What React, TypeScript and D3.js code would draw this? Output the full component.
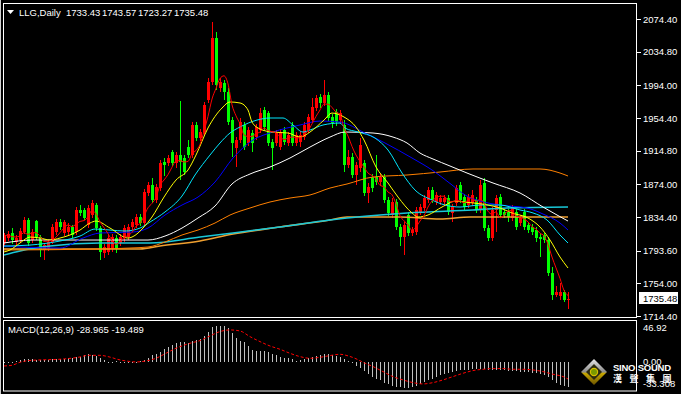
import React from "react";
import * as d3 from "d3";

const W = 681;
const H = 394;

// daily bars, one row per day: open, high, low, close
const ohlc: number[][] = [
  [1802.9, 1815.0, 1799.2, 1811.3], [1808.9, 1817.4, 1805.3, 1813.8], [1815.0, 1821.0, 1801.6, 1806.5],
  [1804.1, 1812.6, 1800.4, 1808.9], [1806.5, 1821.0, 1802.9, 1817.4], [1816.2, 1834.4, 1813.8, 1830.8],
  [1830.8, 1833.2, 1799.2, 1802.9], [1806.5, 1819.8, 1802.9, 1816.2], [1829.5, 1830.8, 1806.5, 1810.1],
  [1810.1, 1812.6, 1785.9, 1794.4], [1794.4, 1802.9, 1782.3, 1800.4], [1796.8, 1806.5, 1793.2, 1804.1],
  [1804.1, 1825.9, 1801.6, 1822.3], [1816.2, 1832.0, 1812.6, 1828.3], [1828.3, 1832.0, 1818.6, 1822.3],
  [1815.0, 1830.8, 1811.3, 1828.3], [1816.2, 1827.1, 1812.6, 1822.3], [1822.3, 1824.7, 1808.9, 1812.6],
  [1816.2, 1846.5, 1812.6, 1842.9], [1842.9, 1848.9, 1835.6, 1839.3], [1842.9, 1845.3, 1830.8, 1833.2],
  [1824.7, 1848.9, 1821.0, 1845.3], [1836.8, 1855.0, 1833.2, 1851.4], [1848.9, 1851.4, 1817.4, 1821.0],
  [1821.0, 1823.5, 1782.3, 1792.0], [1790.7, 1801.6, 1784.7, 1798.0], [1792.0, 1812.6, 1788.3, 1808.9],
  [1796.8, 1813.8, 1792.0, 1810.1], [1808.9, 1812.6, 1790.7, 1796.8], [1802.9, 1813.8, 1799.2, 1810.1],
  [1808.9, 1824.7, 1804.1, 1821.0], [1810.1, 1825.9, 1806.5, 1822.3], [1822.3, 1832.0, 1818.6, 1828.3],
  [1824.7, 1838.0, 1821.0, 1834.4], [1834.4, 1838.0, 1823.5, 1827.1], [1827.1, 1868.3, 1823.5, 1864.7],
  [1863.5, 1876.8, 1859.8, 1873.2], [1873.2, 1881.7, 1851.4, 1855.0], [1855.0, 1874.4, 1851.4, 1870.8],
  [1869.5, 1903.5, 1865.9, 1899.8], [1901.1, 1905.9, 1884.1, 1897.4], [1899.8, 1909.5, 1896.2, 1905.9],
  [1913.2, 1915.6, 1896.2, 1899.8], [1899.8, 1913.2, 1893.8, 1909.5], [1909.5, 1975.0, 1879.2, 1901.1],
  [1905.9, 1909.5, 1885.3, 1888.9], [1919.2, 1927.7, 1905.9, 1909.5], [1909.5, 1949.5, 1905.9, 1945.9],
  [1945.9, 1949.5, 1926.5, 1930.1], [1930.1, 1941.1, 1926.5, 1937.4], [1937.4, 1973.8, 1933.8, 1970.1],
  [1976.2, 2002.9, 1972.6, 1998.0], [1998.0, 2070.7, 1994.4, 2051.4], [2051.4, 2058.6, 1988.3, 1994.4],
  [1990.8, 2002.9, 1985.9, 1998.0], [1996.8, 2000.5, 1976.2, 1985.9], [1985.9, 1990.8, 1945.9, 1949.5],
  [1951.9, 1955.6, 1907.1, 1924.1], [1918.0, 1931.3, 1895.0, 1927.7], [1927.7, 1954.4, 1924.1, 1949.5],
  [1945.9, 1949.5, 1915.6, 1919.2], [1924.1, 1943.5, 1920.4, 1939.8], [1936.2, 1939.8, 1913.2, 1924.1],
  [1931.3, 1947.1, 1927.7, 1943.5], [1939.8, 1966.5, 1936.2, 1960.4], [1964.1, 1967.7, 1939.8, 1943.5],
  [1960.4, 1962.9, 1920.4, 1924.1], [1925.3, 1928.9, 1891.4, 1918.0], [1924.1, 1939.8, 1920.4, 1936.2],
  [1919.2, 1941.1, 1915.6, 1937.4], [1939.8, 1943.5, 1921.7, 1925.3], [1924.1, 1937.4, 1920.4, 1933.8],
  [1945.9, 1949.5, 1920.4, 1924.1], [1924.1, 1937.4, 1920.4, 1933.8], [1925.3, 1938.6, 1919.2, 1933.8],
  [1931.3, 1949.5, 1927.7, 1945.9], [1939.8, 1959.2, 1936.2, 1955.6], [1951.9, 1978.6, 1948.3, 1967.7],
  [1966.5, 1982.3, 1962.9, 1978.6], [1979.8, 1983.5, 1966.5, 1972.6], [1972.6, 2000.5, 1968.9, 1982.3],
  [1982.3, 1985.9, 1950.7, 1954.4], [1955.6, 1959.2, 1942.3, 1948.3], [1961.6, 1965.3, 1944.7, 1949.5],
  [1951.9, 1964.1, 1947.1, 1960.4], [1945.9, 1951.9, 1888.9, 1897.4], [1897.4, 1915.6, 1893.8, 1907.1],
  [1907.1, 1912.0, 1881.7, 1885.3], [1885.3, 1901.1, 1873.2, 1897.4], [1893.8, 1930.1, 1888.9, 1921.7],
  [1899.8, 1903.5, 1859.8, 1863.5], [1863.5, 1875.6, 1851.4, 1870.8], [1882.9, 1886.5, 1864.7, 1869.5],
  [1882.9, 1909.5, 1873.2, 1876.8], [1876.8, 1886.5, 1872.0, 1882.9], [1882.9, 1886.5, 1851.4, 1855.0],
  [1855.0, 1858.6, 1835.6, 1839.3], [1836.8, 1857.4, 1833.2, 1852.6], [1852.6, 1856.2, 1818.6, 1822.3],
  [1822.3, 1825.9, 1799.2, 1810.1], [1810.1, 1828.3, 1788.3, 1824.7], [1836.8, 1840.5, 1811.3, 1815.0],
  [1815.0, 1822.3, 1811.3, 1818.6], [1816.2, 1846.5, 1812.6, 1842.9], [1840.5, 1850.1, 1836.8, 1846.5],
  [1845.3, 1861.1, 1841.7, 1857.4], [1855.0, 1870.8, 1851.4, 1867.1], [1867.1, 1870.8, 1851.4, 1855.0],
  [1852.6, 1864.7, 1848.9, 1861.1], [1852.6, 1861.1, 1848.9, 1857.4], [1852.6, 1861.1, 1847.7, 1857.4],
  [1857.4, 1861.1, 1836.8, 1840.5], [1839.3, 1850.1, 1828.3, 1846.5], [1851.4, 1873.2, 1847.7, 1869.5],
  [1873.2, 1876.8, 1851.4, 1855.0], [1858.6, 1862.3, 1842.9, 1846.5], [1848.9, 1862.3, 1845.3, 1858.6],
  [1851.4, 1867.1, 1847.7, 1861.1], [1855.0, 1858.6, 1839.3, 1842.9], [1842.9, 1879.2, 1839.3, 1873.2],
  [1875.6, 1881.7, 1817.4, 1821.0], [1821.0, 1824.7, 1805.3, 1808.9], [1808.9, 1846.5, 1805.3, 1842.9],
  [1842.9, 1861.1, 1816.2, 1857.4], [1858.6, 1862.3, 1833.2, 1836.8], [1840.5, 1844.1, 1833.2, 1836.8],
  [1840.5, 1844.1, 1828.3, 1834.4], [1833.2, 1848.9, 1829.5, 1846.5], [1840.5, 1844.1, 1818.6, 1822.3],
  [1827.1, 1836.8, 1823.5, 1833.2], [1840.5, 1844.1, 1818.6, 1822.3], [1824.7, 1828.3, 1815.0, 1818.6],
  [1822.3, 1825.9, 1812.6, 1816.2], [1818.6, 1822.3, 1804.1, 1808.9], [1810.1, 1813.8, 1785.9, 1807.7],
  [1812.6, 1815.0, 1802.9, 1806.5], [1806.5, 1810.1, 1762.9, 1766.5], [1766.5, 1773.8, 1733.8, 1739.8],
  [1739.8, 1750.7, 1737.4, 1743.5], [1738.6, 1754.4, 1733.8, 1743.5], [1743.5, 1745.9, 1731.3, 1733.8],
  [1733.43, 1743.57, 1723.27, 1735.48],
];

// moving averages: [bar index, price]
const yellowMA: number[][] = [
  [0, 1792.0], [1.5, 1794.4], [4, 1802.9], [6.5, 1810.1], [9, 1808.9], [11.5, 1806.5], [14, 1808.9],
  [16.5, 1812.6], [19, 1818.6], [21.5, 1827.1], [23, 1829.5], [26.5, 1821.0], [31, 1808.9], [32, 1810.1],
  [35, 1822.3], [37, 1834.4], [40, 1858.6], [43, 1879.2], [46, 1891.4], [48, 1909.5], [51, 1942.3],
  [54.5, 1966.5], [56.5, 1973.8], [59, 1972.6], [61, 1964.1], [62, 1949.5], [64, 1941.1], [67, 1937.4],
  [71, 1936.2], [74, 1931.3], [76.5, 1937.4], [80, 1951.9], [82, 1960.4], [85, 1955.6], [88, 1943.5],
  [90, 1927.7], [93, 1895.0], [96, 1875.6], [98.5, 1858.6], [102, 1839.3], [103.5, 1834.4], [106, 1836.8],
  [109.5, 1846.5], [113, 1853.8], [115, 1852.6], [121, 1848.9], [124, 1845.3], [127, 1839.3], [131, 1833.2],
  [134, 1822.3], [136.5, 1806.5], [139, 1785.9], [141, 1772.6],
];
const cyanMA: number[][] = [
  [0, 1799.2], [6.5, 1800.4], [14, 1805.3], [19, 1811.3], [22.75, 1819.8], [26.5, 1818.6], [30.25, 1817.4],
  [34, 1821.0], [36.5, 1828.3], [40.25, 1840.5], [44.5, 1859.8], [47.75, 1885.3], [51.5, 1909.5],
  [54, 1924.1], [56.5, 1936.2], [59, 1943.5], [63.25, 1951.9], [66.5, 1954.4], [69.75, 1954.4],
  [72.25, 1945.9], [74.75, 1937.4], [76.5, 1939.8], [79.75, 1945.9], [84, 1948.3], [85.25, 1942.3],
  [88.5, 1937.4], [92.75, 1930.1], [96, 1915.6], [99.5, 1887.7], [102.75, 1867.1], [107, 1855.0],
  [110.25, 1848.9], [114, 1846.5], [119, 1848.9], [124, 1848.9], [129, 1842.9], [132.25, 1839.3],
  [135.75, 1830.8], [139, 1812.6], [141, 1802.9],
];
const blueMA: number[][] = [
  [0, 1799.2], [4, 1798.0], [14, 1796.8], [19.75, 1808.9], [24, 1815.0], [32.25, 1816.2], [36, 1821.0],
  [40.25, 1836.8], [44.5, 1848.9], [48.5, 1858.6], [52.75, 1876.8], [57.25, 1905.9], [62.25, 1927.7],
  [67.25, 1937.4], [74, 1945.9], [79, 1950.7], [84, 1949.5], [90.25, 1936.2], [95.25, 1924.1],
  [102, 1905.9], [107, 1891.4], [112, 1873.2], [115.25, 1861.1], [119, 1853.8], [124, 1848.9],
  [130.75, 1845.3], [134.75, 1838.0], [139, 1827.1], [141, 1818.6],
];
const whiteMA: number[][] = [
  [0, 1802.9], [7.25, 1806.5], [31.5, 1806.5], [36, 1806.5], [40.25, 1811.3], [44.5, 1821.0],
  [48.5, 1833.2], [52.75, 1847.7], [57, 1874.4], [61.5, 1886.5], [66.5, 1895.0], [71.5, 1905.9],
  [76.5, 1919.2], [81.5, 1931.3], [85.25, 1937.4], [92.25, 1936.2], [97.25, 1931.3], [100.75, 1924.1],
  [104, 1911.9], [107.25, 1904.7], [111.5, 1896.2], [115.75, 1887.7], [122.25, 1875.6], [129, 1863.5],
  [134.75, 1846.5], [138.25, 1836.8], [141, 1829.5],
];
const orangeMA: number[][] = [
  [0, 1794.4], [24, 1795.6], [31.5, 1796.8], [36, 1798.0], [40.25, 1804.1], [44.5, 1812.6], [48.5, 1818.6],
  [52.75, 1827.1], [56.5, 1836.8], [61.5, 1845.3], [66.5, 1852.6], [71.5, 1857.4], [76.5, 1861.1],
  [81.5, 1869.5], [85.75, 1874.4], [92.25, 1882.9], [100.75, 1885.3], [109, 1888.9], [117.25, 1892.6],
  [134, 1892.6], [139, 1887.7], [141, 1884.1],
];
const longCyanMA: number[][] = [
  [0, 1788.3], [4, 1793.2], [11.5, 1799.2], [24, 1802.9], [36.5, 1802.9], [49, 1810.1], [57.25, 1815.0],
  [69, 1822.3], [81.5, 1830.8], [85.75, 1833.2], [94, 1836.8], [100.75, 1839.3], [117.25, 1842.9],
  [125.75, 1845.3], [141, 1846.5],
];
const longOrangeMA: number[][] = [
  [0, 1795.6], [34, 1795.6], [39, 1799.2], [49, 1805.3], [57.25, 1813.8], [69, 1822.3], [81.5, 1830.8],
  [85.75, 1834.4], [99, 1834.4], [109, 1832.0], [116.5, 1834.4], [141, 1834.4],
];

// MACD(12,26,9) main values, one per bar
const macdMain = [
  0.3, 0.4, 0.4, 1.1, 2.3, 3.1, 3.4, 3.1, 2.7, 2.3,
  2.3, 2.7, 3.1, 3.8, 3.8, 3.8, 4.2, 4.2, 5.3, 6.1,
  7.6, 8.8, 8.4, 6.5, 4.2, 2.3, 0.2, -0.3, 0.8, -0.5,
  -0.2, 0.4, -0.4, 0.4, 0.8, 1.9, 5.0, 7.6, 9.6, 11.1,
  14.9, 17.6, 19.9, 21.8, 22.9, 22.5, 22.2, 23.7, 24.8, 26.7,
  29.8, 34.0, 40.5, 41.3, 41.3, 41.3, 38.6, 32.9, 27.1, 24.5,
  22.5, 18.3, 13.8, 13.0, 13.0, 12.2, 11.1, 9.2, 8.0, 6.1,
  5.0, 4.2, 3.1, 1.5, 2.3, 3.1, 5.0, 6.1, 7.3, 8.4,
  9.6, 9.2, 8.4, 7.3,
  6.1, 3.5, 1.5, -1.5, -4.2, -6.5, -10, -14, -17, -19,
  -21, -23.7, -25.6, -27.1, -28.3, -29.0, -29.4, -29.4, -28.7, -27.5,
  -25.6, -23.3, -21.0, -19.1, -17.2, -15.3, -13.8, -12.6, -11.5, -10.3,
  -9.2, -9.2, -8.8, -8.4, -8.0, -7.6, -8.0, -8.8, -9.2, -8.8,
  -8.8, -9.2, -9.9, -10.3, -10.7, -11.1, -11.1, -11.5, -12.2, -13.0,
  -14.1, -15.3, -17.6, -20.6, -23.7, -26.0, -27.9, -28.965,
];
// signal line: [bar index, value]
const macdSignal: number[][] = [
  [0, -4.6], [2, -3.8], [4, -0.4], [6, 1.5], [9, 2.3], [14, 3.1], [19, 5.7], [21, 7.6], [24, 7.6],
  [26, 6.1], [29, 2.3], [31, 0.8], [33, 0], [35.5, 1.1], [38, 4.2], [40.5, 9.9], [43, 15.7], [46.5, 21.4],
  [49, 24.5], [51.5, 29.8], [54, 34.8], [56.5, 36.7], [59, 35.5], [61.5, 29.0], [64, 23.3], [66.5, 18.3],
  [69, 14.5], [71.5, 9.9], [74, 6.1], [76.5, 4.2], [79, 5.3], [81.5, 7.3], [84, 8.8], [85.75, 7.3],
  [88.25, 3.1], [89.75, -0.4], [92.25, -5.3], [94.75, -11.1], [97.25, -16.8], [99.75, -20.6],
  [102.25, -23.7], [104.75, -25.2], [107.25, -23.7], [109.75, -20.6], [112.25, -16.8], [114.75, -13.0],
  [117.25, -9.9], [119.75, -8.4], [122.25, -7.6], [124.75, -7.6], [127.25, -8.4], [129.75, -8.4],
  [132.25, -9.2], [134.75, -11.1], [137.25, -14.1], [139.75, -16.8], [141, -19.489],
];

const priceTicks = [2074.4, 2034.8, 1994.0, 1954.4, 1914.8, 1874.0, 1834.4, 1793.6, 1754.0, 1714.4];
const macdTicks = [46.92, 0, -33.308];
const symbol = "LLG,Daily";
const lastBar = ["1733.43", "1743.57", "1723.27", "1735.48"];
const macdLabel = "MACD(12,26,9) -28.965 -19.489";
const logoName = "SINO SOUND";
const logoChars = ["漢", "聲", "集", "團"];

const FONT = "'Liberation Sans', Arial, sans-serif";

export default function App() {
  const n = ohlc.length;
  const x = d3.scaleLinear().domain([0, n - 1]).range([4, 568]);
  const y = d3.scaleLinear().domain([1714.4, 2074.4]).range([316, 19]);
  const ym = d3.scaleLinear().domain([-33.308, 46.92]).range([391, 321]);

  const closes = ohlc.map((d) => d[3]);
  // fast average (5 bars) straight from the closes
  const redMA = closes.map((_, i) => [i, d3.mean(closes.slice(Math.max(0, i - 4), i + 1)) as number]);

  const line = d3
    .line<number[]>()
    .x((d) => x(d[0]))
    .y((d) => y(d[1]))
    .curve(d3.curveMonotoneX);
  const sigLine = d3
    .line<number[]>()
    .x((d) => x(d[0]))
    .y((d) => ym(d[1]))
    .curve(d3.curveMonotoneX);

  const maLines = [
    { data: longOrangeMA, color: "#f0a030", w: 1.6 },
    { data: longCyanMA, color: "#18c8d8", w: 1.6 },
    { data: orangeMA, color: "#ff8000", w: 1 },
    { data: whiteMA, color: "#ffffff", w: 1 },
    { data: blueMA, color: "#0000ff", w: 1 },
    { data: cyanMA, color: "#00e8ff", w: 1 },
    { data: yellowMA, color: "#ffff00", w: 1 },
    { data: redMA, color: "#ff0000", w: 1 },
  ];

  return (
    <svg
      width={W}
      height={H}
      style={{ position: "fixed", left: 0, top: 0, background: "#000" }}
      fontFamily={FONT}
    >
      <defs>
        <clipPath id="mainClip">
          <rect x={4} y={4} width={632} height={313} />
        </clipPath>
        <clipPath id="macdClip">
          <rect x={4} y={321} width={632} height={70} />
        </clipPath>
        <linearGradient id="logoOuter" x1="0" y1="0" x2="0" y2="1">
          <stop offset="0" stopColor="#e8e8e8" />
          <stop offset="0.5" stopColor="#8a8a8a" />
          <stop offset="0.55" stopColor="#c8a800" />
          <stop offset="1" stopColor="#6a5200" />
        </linearGradient>
      </defs>
      <rect width={W} height={H} fill="#000" />

      {/* frames */}
      <line x1={0.5} y1={0} x2={0.5} y2={H} stroke="#d0d0d0" />
      <rect x={3.5} y={3.5} width={633} height={314} fill="none" stroke="#fff" />
      <rect x={3.5} y={320.5} width={633} height={70.5} fill="none" stroke="#fff" />

      {/* candles */}
      <g clipPath="url(#mainClip)" shapeRendering="crispEdges">
        {ohlc.map((d, i) => {
          const [o, h, l, c] = d;
          const up = c >= o;
          const col = up ? "#ff0000" : "#00ff00";
          const cx = Math.round(x(i));
          const top = Math.round(y(Math.max(o, c)));
          const bot = Math.round(y(Math.min(o, c)));
          return (
            <g key={i}>
              <rect x={cx} y={Math.round(y(h))} width={1} height={Math.max(1, Math.round(y(l)) - Math.round(y(h)))} fill={col} />
              <rect x={cx - 1} y={top} width={3} height={Math.max(1, bot - top)} fill={col} />
            </g>
          );
        })}
      </g>

      {/* moving averages, drawn over the bars */}
      <g clipPath="url(#mainClip)" fill="none">
        {maLines.map((m, k) => (
          <path key={k} d={line(m.data) || ""} stroke={m.color} strokeWidth={m.w} />
        ))}
      </g>

      {/* price axis */}
      <g fill="#fff" fontSize={9.5}>
        {priceTicks.map((t) => (
          <g key={t}>
            <line x1={637} x2={641} y1={Math.round(y(t)) + 0.5} y2={Math.round(y(t)) + 0.5} stroke="#fff" />
            <text x={643} y={y(t) + 3.5}>{t.toFixed(2)}</text>
          </g>
        ))}
      </g>
      <rect x={639} y={292} width={39} height={12} fill="#fff" />
      <text x={643} y={301.5} fontSize={9.5} fill="#000">{lastBar[3]}</text>

      {/* header */}
      <path d="M7,10 L14,10 L10.5,14 Z" fill="#fff" />
      <g fill="#fff" fontSize={9.5}>
        <text x={19} y={15.5}>{symbol}</text>
        {lastBar.map((v, k) => (
          <text key={k} x={66 + k * 36} y={15.5}>{v}</text>
        ))}
      </g>

      {/* MACD */}
      <g clipPath="url(#macdClip)" shapeRendering="crispEdges">
        {macdMain.map((v, i) => {
          const y0 = Math.round(ym(0));
          const y1 = Math.round(ym(v));
          return (
            <rect key={i} x={Math.round(x(i))} y={Math.min(y0, y1)} width={1} height={Math.max(1, Math.abs(y1 - y0))} fill="#c0c0c0" />
          );
        })}
      </g>
      <g clipPath="url(#macdClip)">
        <path d={sigLine(macdSignal) || ""} fill="none" stroke="#ff0000" strokeWidth={1} strokeDasharray="3,2" />
      </g>
      <text x={8} y={333} fill="#fff" fontSize={9.5}>{macdLabel}</text>
      <g fill="#fff" fontSize={9.5}>
        {macdTicks.map((t, k) => {
          const ty = Math.min(Math.max(ym(t), 327), 383.5);
          return (
            <text key={k} x={643} y={ty + 3.5}>{k === 2 ? t.toFixed(3) : t.toFixed(2)}</text>
          );
        })}
      </g>

      {/* logo */}
      <g>
        <path d="M594,359 L607,372 L594,385 L581,372 Z" fill="url(#logoOuter)" />
        <path d="M594,364 L602,372 L594,380 L586,372 Z" fill="#2a2a10" />
        <circle cx={594} cy={372} r={3.6} fill="#7a9a00" stroke="#d8c000" strokeWidth={1.2} />
        <text x={613} y={370.5} fill="#fff" fontSize={9.5} fontWeight="bold" textLength={58}>{logoName}</text>
        <g fill="#fff" fontSize={9} fontWeight="bold" fontFamily="'Noto Sans CJK TC', sans-serif">
          {logoChars.map((ch, k) => (
            <text key={k} x={613 + k * 16.5} y={381.5}>{ch}</text>
          ))}
        </g>
      </g>
    </svg>
  );
}
